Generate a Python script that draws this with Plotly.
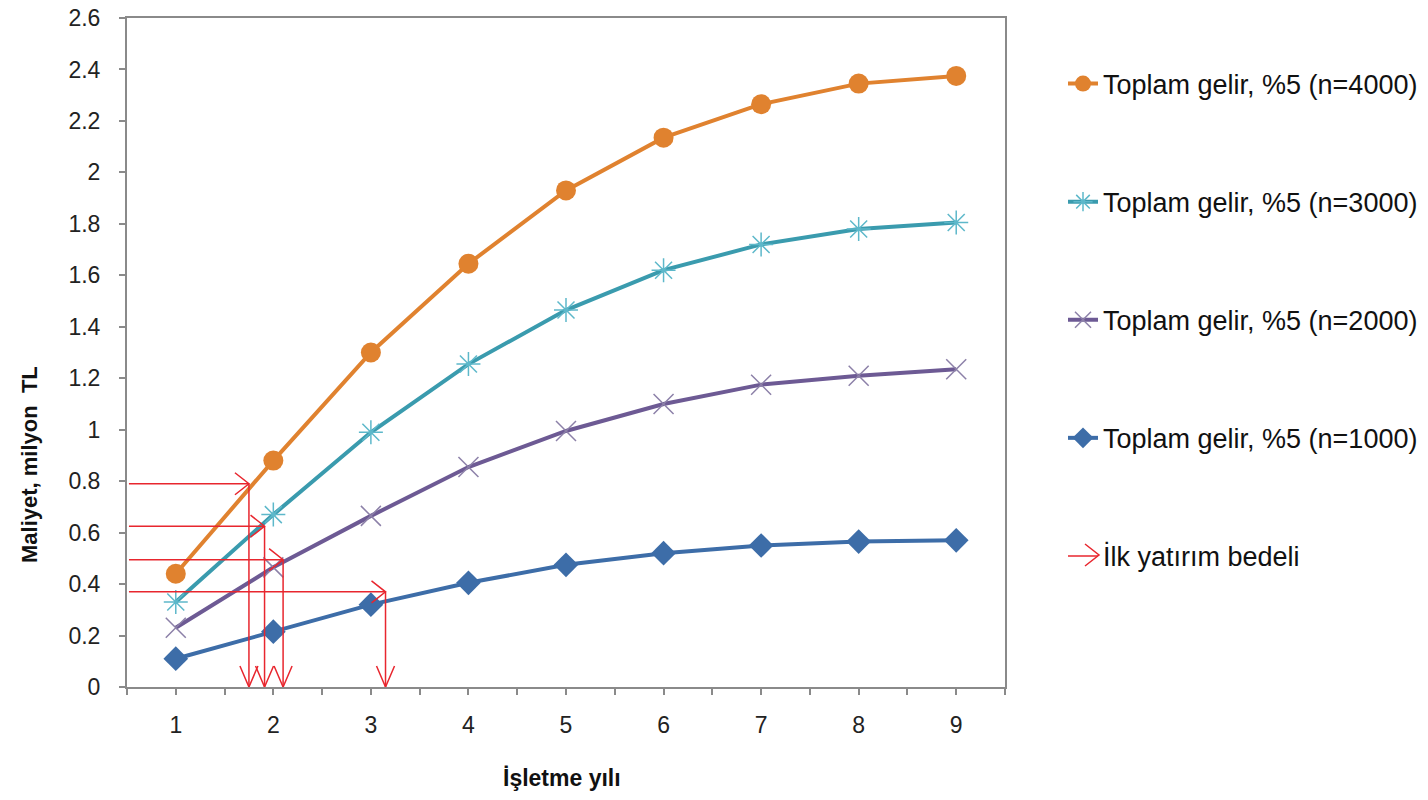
import plotly.graph_objects as go

# ---- data ----
years = [1, 2, 3, 4, 5, 6, 7, 8, 9]
gelir_4000 = [0.44, 0.88, 1.30, 1.645, 1.93, 2.135, 2.265, 2.345, 2.375]
gelir_3000 = [0.33, 0.67, 0.99, 1.255, 1.465, 1.62, 1.72, 1.78, 1.805]
gelir_2000 = [0.23, 0.465, 0.665, 0.855, 0.995, 1.10, 1.175, 1.21, 1.235]
gelir_1000 = [0.11, 0.215, 0.32, 0.405, 0.475, 0.52, 0.55, 0.565, 0.57]

# initial investment cost (y) and payback year (x) for the red arrows
invest = [0.79, 0.625, 0.495, 0.37]
payback = [1.75, 1.91, 2.10, 3.15]
arrow_start_x = 0.52

y_ticks = [0, 0.2, 0.4, 0.6, 0.8, 1, 1.2, 1.4, 1.6, 1.8, 2, 2.2, 2.4, 2.6]
y_ticktext = ["0", "0.2", "0.4", "0.6", "0.8", "1", "1.2", "1.4", "1.6", "1.8", "2", "2.2", "2.4", "2.6"]

names = ["Toplam gelir, %5 (n=4000)", "Toplam gelir, %5 (n=3000)",
         "Toplam gelir, %5 (n=2000)", "Toplam gelir, %5 (n=1000)"]
arrow_name = "İlk yatırım bedeli"

FONT = "Liberation Sans"
RED = "#E8262E"

# ---- layout geometry ----
W, H = 1428, 800
ML, MR, MT, MB = 127, 423, 18, 113
PW, PH = W - ML - MR, H - MT - MB
XR = [0.5, 9.5]
YR = [0, 2.6]
px_x = PW / (XR[1] - XR[0])   # pixels per x unit
px_y = PH / (YR[1] - YR[0])   # pixels per y unit

fig = go.Figure()

series = [
    (gelir_4000, names[0], "#E0822F", dict(symbol="circle", size=20, color="#E0822F")),
    (gelir_3000, names[1], "#3A9BAE", dict(symbol="asterisk-open", size=20, color="#5DB8CA",
                                           line=dict(width=1.5, color="#5DB8CA"))),
    (gelir_2000, names[2], "#6D5A94", dict(symbol="x-thin-open", size=20, color="#8C80A8",
                                           line=dict(width=1.5, color="#8C80A8"))),
    (gelir_1000, names[3], "#3D6DA8", dict(symbol="diamond", size=19, color="#3D6DA8")),
]

for i, (vals, nm, col, mk) in enumerate(series):
    fig.add_trace(go.Scatter(
        x=years, y=vals, name=nm, mode="lines+markers",
        line=dict(color=col, width=4), marker=mk,
        legendgroup=f"g{i}",
    ))

# red arrow shafts (with legend entry)
ax_x, ax_y = [], []
for inv, pb in zip(invest, payback):
    ax_x += [arrow_start_x, pb, None, pb, pb, None]
    ax_y += [inv, inv, None, inv, 0, None]
fig.add_trace(go.Scatter(
    x=ax_x, y=ax_y, mode="lines", name=arrow_name,
    line=dict(color=RED, width=1.5), legendgroup="g4", hoverinfo="skip",
))

# open V arrowheads (sizes in pixels, converted through the axis scales)
hx, hy = [], []
for inv, pb in zip(invest, payback):
    # pointing right at (pb, inv)
    dx, dy = 14 / px_x, 11 / px_y
    hx += [pb - dx, pb, pb - dx, None]
    hy += [inv + dy, inv, inv - dy, None]
    # pointing down at (pb, 0)
    dx, dy = 9 / px_x, 21 / px_y
    hx += [pb - dx, pb, pb + dx, None]
    hy += [dy, 0, dy, None]
fig.add_trace(go.Scatter(
    x=hx, y=hy, mode="lines", line=dict(color=RED, width=1.5),
    showlegend=False, hoverinfo="skip", cliponaxis=False,
))

# axis titles
fig.add_annotation(text="<b>Maliyet, milyon  TL</b>", textangle=-90,
                   xref="paper", yref="paper", x=(30 - ML) / PW, y=(H - MB - 465) / PH,
                   xanchor="center", yanchor="middle",
                   showarrow=False, font=dict(family=FONT, size=22, color="#111111"))
fig.add_annotation(text="<b>İşletme yılı</b>",
                   xref="paper", yref="paper", x=(562 - ML) / PW, y=(H - MB - 778) / PH,
                   xanchor="center", yanchor="middle",
                   showarrow=False, font=dict(family=FONT, size=23, color="#111111"))

# arrowhead on the legend glyph of the red arrow entry
LEG_TIP_X, LEG_TIP_Y = 1099, 555
fig.add_shape(type="path", xref="paper", yref="paper",
              xsizemode="pixel", ysizemode="pixel",
              xanchor=(LEG_TIP_X - ML) / PW, yanchor=(H - MB - LEG_TIP_Y) / PH,
              path="M -14,11 L 0,0 L -14,-11", line=dict(color=RED, width=1.5))

x_tickvals = [v / 2 for v in range(1, 20)]
x_ticktext = [str(int(v)) if v == int(v) else "" for v in x_tickvals]

AXC = "#8A8A8A"
fig.update_xaxes(range=XR, tickvals=x_tickvals, ticktext=x_ticktext, automargin=False,
                 showgrid=False, zeroline=False, showline=True, linecolor=AXC, linewidth=2,
                 mirror=True, ticks="outside", ticklen=6, tickcolor=AXC, tickwidth=1.5,
                 ticklabelstandoff=10,
                 tickfont=dict(family=FONT, size=23, color="#222222"))
fig.update_yaxes(range=YR, tickvals=y_ticks, ticktext=y_ticktext, automargin=False,
                 showgrid=False, zeroline=False, showline=True, linecolor=AXC, linewidth=2,
                 mirror=True, ticks="outside", ticklen=6, tickcolor=AXC, tickwidth=1.5,
                 ticklabelstandoff=14,
                 tickfont=dict(family=FONT, size=23, color="#222222"))

fig.update_layout(
    width=W, height=H,
    margin=dict(l=ML, r=MR, t=MT, b=MB, autoexpand=False),
    paper_bgcolor="white", plot_bgcolor="white",
    showlegend=True,
    legend=dict(x=(1063 - ML) / PW, xanchor="left", y=1 - (59.5 - MT) / PH, yanchor="top",
                font=dict(family=FONT, size=27, color="#111111"),
                tracegroupgap=80, itemwidth=30, bgcolor="rgba(0,0,0,0)"),
)

fig.write_html("out.html")
